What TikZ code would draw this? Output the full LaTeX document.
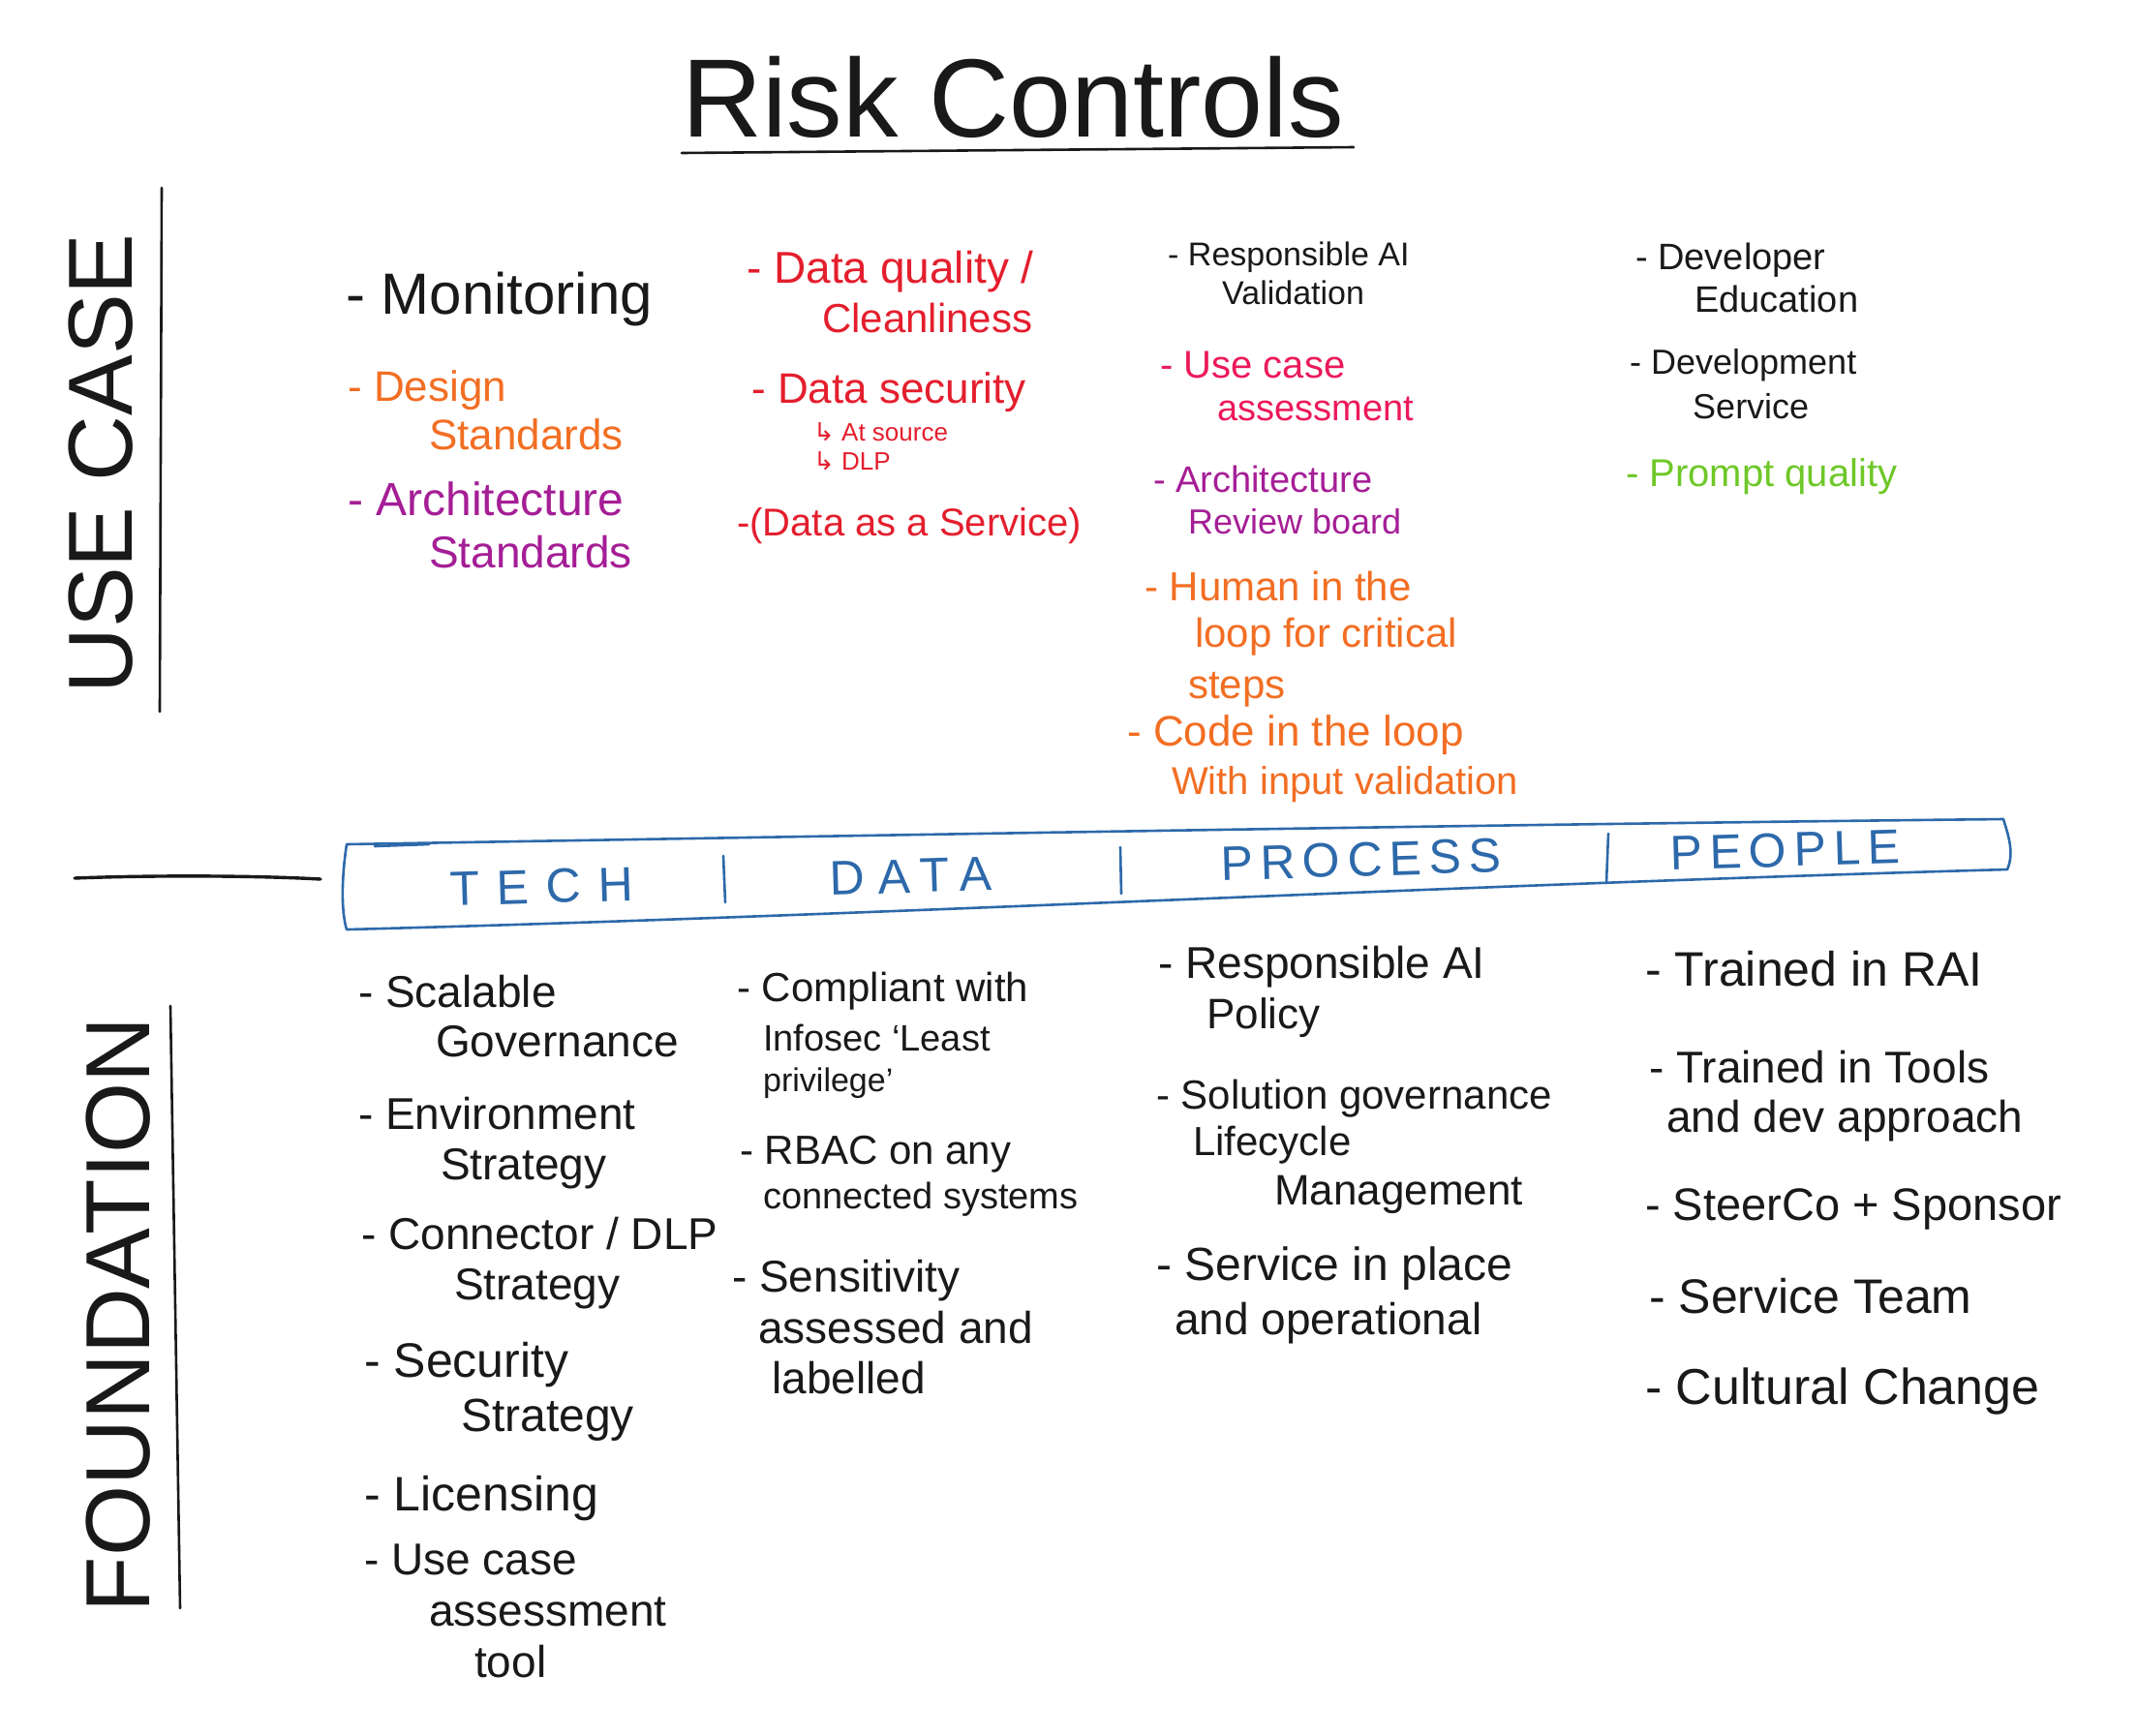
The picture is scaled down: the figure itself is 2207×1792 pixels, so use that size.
\documentclass[tikz,border=0pt]{standalone}
\usepackage{fontspec}
\setmainfont{Liberation Sans}
\newfontfamily\bannerfont[LetterSpace=15]{Liberation Sans}
\newfontfamily\arrowfont{DejaVu Sans}
\definecolor{inkblack}{RGB}{25,25,25}
\definecolor{inkorange}{RGB}{242,110,35}
\definecolor{inkpurple}{RGB}{165,30,150}
\definecolor{inkred}{RGB}{228,30,45}
\definecolor{inkpink}{RGB}{236,25,90}
\definecolor{inkgreen}{RGB}{110,200,40}
\definecolor{inkblue}{RGB}{45,105,170}
\begin{document}
\begin{tikzpicture}[x=1pt,y=-1pt,
  txt/.style={anchor=base west, inner sep=0pt, font=\fontsize{#1}{#1}\selectfont},
  txt/.default=46,
  pen/.style={line width=2.6pt, line cap=round, line join=round, inkblack},
  bannerline/.style={line width=2.6pt, line cap=round, line join=round, inkblue},
  blabel/.style={anchor=base, inner sep=0pt, inkblue, rotate=1.7, font=\bannerfont\fontsize{50}{50}\selectfont},
  side/.style={anchor=center, inner sep=0pt, inkblack, rotate=90, font=\fontsize{94}{94}\selectfont}
]
\useasboundingbox (0,0) rectangle (2207,1792);
\fill[white] (0,0) rectangle (2207,1792);

% Title
\node[txt=115, inkblack] (title) at (704,141) {Risk Controls};
\coordinate (ulA) at (704,158);
\coordinate (ulB) at (1398,152);
\draw[pen] (ulA) -- (ulB);

% Side labels and rules
\node[side] (usecase) at (104,479) {USE CASE};
\node[side] (foundation) at (122,1358) {FOUNDATION};
\coordinate (ucT) at (167,194);
\coordinate (ucB) at (165,735);
\draw[pen] (ucT) -- (ucB);
\coordinate (fdT) at (176,1039);
\coordinate (fdB) at (186,1661);
\draw[pen] (fdT) -- (fdB);
\coordinate (hlA) at (77,907);
\coordinate (hlB) at (331,908);
\draw[pen, line width=3.4pt] (hlA) .. controls (150,904) and (260,904) .. (hlB);

% Banner
\draw[bannerline] (358,872) .. controls (353,905) and (352,940) .. (358,960)
  .. controls (900,946) and (1500,914) .. (2073,898)
  .. controls (2081,880) and (2073,860) .. (2069,846)
  .. controls (1500,852) and (900,863) .. (358,872) -- cycle;
\coordinate (bhA) at (387,874);
\coordinate (bhB) at (443,872);
\draw[bannerline] (bhA) -- (bhB);
\node[blabel] (tech) at (560,933) {\addfontfeature{LetterSpace=35}TECH};
\node[blabel] (data) at (941,922) {\addfontfeature{LetterSpace=28}DATA};
\node[blabel] (process) at (1406,905) {PROCESS};
\node[blabel] (people) at (1844,895) {PEOPLE};
\coordinate (d1A) at (747,884); \coordinate (d1B) at (749,932);
\coordinate (d2A) at (1157,875); \coordinate (d2B) at (1158,923);
\coordinate (d3A) at (1661,861); \coordinate (d3B) at (1659,912);
\draw[bannerline] (d1A) -- (d1B);
\draw[bannerline] (d2A) -- (d2B);
\draw[bannerline] (d3A) -- (d3B);

% ---------- USE CASE : column 1
\node[txt=60, inkblack] (u11) at (357,324) {- Monitoring};
\node[txt=44, inkorange] (u12a) at (359,414) {- Design};
\node[txt=44, inkorange] (u12b) at (443,464) {Standards};
\node[txt=48, inkpurple] (u13a) at (359,532) {- Architecture};
\node[txt=46, inkpurple] (u13b) at (443,586) {Standards};

% column 2
\node[txt=46, inkred] (u21a) at (771,292) {- Data quality /};
\node[txt=42, inkred] (u21b) at (849,343) {Cleanliness};
\node[txt=44, inkred] (u22a) at (776,416) {- Data security};
\node[txt=26, inkred] (u22b) at (840,455) {{\arrowfont ↳} At source};
\node[txt=26, inkred] (u22c) at (840,485) {{\arrowfont ↳} DLP};
\node[txt=40, inkred] (u23) at (761,553) {-(Data as a Service)};

% column 3
\node[txt=34, inkblack] (u31a) at (1206,274) {- Responsible AI};
\node[txt=34, inkblack] (u31b) at (1262,314) {Validation};
\node[txt=40, inkpink] (u32a) at (1198,390) {- Use case};
\node[txt=38, inkpink] (u32b) at (1257,434) {assessment};
\node[txt=38, inkpurple] (u33a) at (1191,508) {- Architecture};
\node[txt=36, inkpurple] (u33b) at (1227,551) {Review board};
\node[txt=42, inkorange] (u34a) at (1182,620) {- Human in the};
\node[txt=42, inkorange] (u34b) at (1234,668) {loop for critical};
\node[txt=42, inkorange] (u34c) at (1227,721) {steps};
\node[txt=44, inkorange] (u35a) at (1164,770) {- Code in the loop};
\node[txt=40, inkorange] (u35b) at (1210,820) {With input validation};

% column 4
\node[txt=38, inkblack] (u41a) at (1689,278) {- Developer};
\node[txt=38, inkblack] (u41b) at (1750,322) {Education};
\node[txt=36, inkblack] (u42a) at (1683,386) {- Development};
\node[txt=36, inkblack] (u42b) at (1748,432) {Service};
\node[txt=40, inkgreen] (u43) at (1679,502) {- Prompt quality};

% ---------- FOUNDATION : column 1
\node[txt=46, inkblack] (f11a) at (370,1040) {- Scalable};
\node[txt=46, inkblack] (f11b) at (450,1091) {Governance};
\node[txt=46, inkblack] (f12a) at (370,1166) {- Environment};
\node[txt=46, inkblack] (f12b) at (455,1218) {Strategy};
\node[txt=46, inkblack] (f13a) at (373,1290) {- Connector / DLP};
\node[txt=46, inkblack] (f13b) at (469,1342) {Strategy};
\node[txt=50, inkblack] (f14a) at (376,1422) {- Security};
\node[txt=48, inkblack] (f14b) at (476,1478) {Strategy};
\node[txt=50, inkblack] (f15) at (376,1560) {- Licensing};
\node[txt=46, inkblack] (f16a) at (376,1626) {- Use case};
\node[txt=46, inkblack] (f16b) at (443,1679) {assessment};
\node[txt=46, inkblack] (f16c) at (490,1732) {tool};

% column 2
\node[txt=42, inkblack] (f21a) at (761,1034) {- Compliant with};
\node[txt=38, inkblack] (f21b) at (788,1085) {Infosec `Least};
\node[txt=34, inkblack] (f21c) at (788,1127) {privilege'};
\node[txt=42, inkblack] (f22a) at (764,1202) {- RBAC on any};
\node[txt=38, inkblack] (f22b) at (788,1248) {connected systems};
\node[txt=46, inkblack] (f23a) at (756,1334) {- Sensitivity};
\node[txt=46, inkblack] (f23b) at (783,1387) {assessed and};
\node[txt=46, inkblack] (f23c) at (797,1439) {labelled};

% column 3
\node[txt=46, inkblack] (f31a) at (1196,1010) {- Responsible AI};
\node[txt=44, inkblack] (f31b) at (1246,1062) {Policy};
\node[txt=42, inkblack] (f32a) at (1194,1145) {- Solution governance};
\node[txt=42, inkblack] (f32b) at (1232,1193) {Lifecycle};
\node[txt=44, inkblack] (f32c) at (1316,1244) {Management};
\node[txt=48, inkblack] (f33a) at (1194,1322) {- Service in place};
\node[txt=46, inkblack] (f33b) at (1213,1378) {and operational};

% column 4
\node[txt=50, inkblack] (f41) at (1699,1018) {- Trained in RAI};
\node[txt=46, inkblack] (f42a) at (1703,1118) {- Trained in Tools};
\node[txt=46, inkblack] (f42b) at (1721,1169) {and dev approach};
\node[txt=47, inkblack] (f43) at (1699,1260) {- SteerCo + Sponsor};
\node[txt=50, inkblack] (f44) at (1703,1356) {- Service Team};
\node[txt=52, inkblack] (f45) at (1699,1450) {- Cultural Change};
\end{tikzpicture}
\end{document}
